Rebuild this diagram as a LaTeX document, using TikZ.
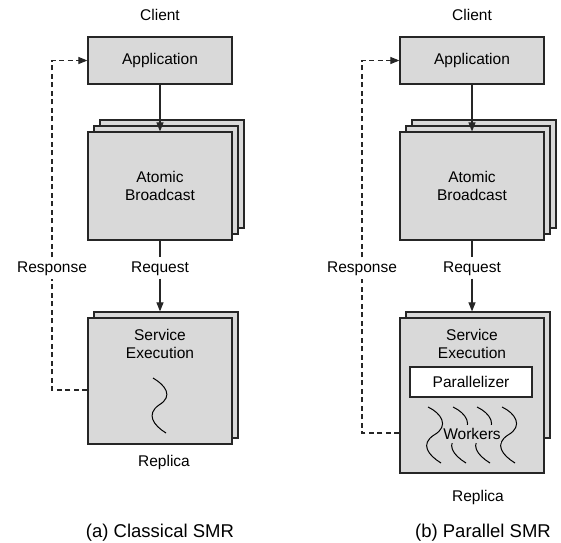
\documentclass[tikz,border=0pt]{standalone}
\usepackage{fontspec}
\setmainfont{Liberation Sans}
\usetikzlibrary{arrows.meta}
\definecolor{boxgray}{HTML}{D9D9D9}
\definecolor{edgecol}{HTML}{262626}
\begin{document}
\begin{tikzpicture}[x=1pt,y=-1pt,
  txt/.style={font=\fontsize{15.5}{18}\selectfont, inner sep=0pt, align=center},
  captxt/.style={txt, font=\fontsize{18.5}{22}\selectfont},
  box/.style={draw=edgecol, fill=boxgray, line width=1.2pt, inner sep=0pt, font=\fontsize{15.5}{18}\selectfont, align=center},
  wbox/.style={box, fill=white},
  lbl/.style={txt, text height=11pt, text depth=3pt, inner ysep=3.5pt, inner xsep=2pt},
  conn/.style={line width=1.1pt, draw=edgecol},
  arr/.style={conn, -{Triangle[length=9pt,width=7pt]}},
  dsh/.style={conn, dash pattern=on 5pt off 3.5pt},
  squig/.style={line width=1pt, draw=black}]
\useasboundingbox (0,0) rectangle (561,542);

% ---------- (a) Classical SMR ----------
\node[txt] (clientA) at (160,15) {Client};
\node[box, minimum width=144pt, minimum height=47pt] (appA) at (160,60.5) {Application};
\node[box, minimum width=144pt, minimum height=108pt] (abA3) at (172,174) {};
\node[box, minimum width=144pt, minimum height=108pt] (abA2) at (166,180) {};
\node[box, minimum width=144pt, minimum height=108pt] (abA1) at (160,186) {Atomic\\Broadcast};
\node[box, minimum width=144pt, minimum height=126pt] (seA2) at (166,375) {};
\node[box, minimum width=144pt, minimum height=126pt] (seA1) at (160,381) {};
\node[txt] (seAt) at (160,344) {Service\\Execution};
\draw[squig] (153,378) .. controls (165,385) and (174,396) .. (159,405)
  .. controls (146,414) and (153,425) .. (166,433);
\node[txt] (repA) at (164,462) {Replica};
\node[captxt] (capA) at (160,533) {(a) Classical SMR};
\node[lbl] (reqA) at (160,268) {Request};
\node[lbl] (respA) at (52,268) {Response};

\draw[arr] (appA.south) -- (abA1.north);
\draw[conn] (abA1.south) -- (reqA.north);
\draw[arr] (reqA.south) -- (reqA.south |- seA2.north);
\draw[dsh] ([yshift=-9pt]seA1.west) -| (respA.south);
\draw[dsh, -{Triangle[length=9pt,width=7pt]}] (respA.north) |- (appA.west);

% ---------- (b) Parallel SMR ----------
\node[txt] (clientB) at (472,15) {Client};
\node[box, minimum width=144pt, minimum height=47pt] (appB) at (472,60.5) {Application};
\node[box, minimum width=144pt, minimum height=108pt] (abB3) at (484,174) {};
\node[box, minimum width=144pt, minimum height=108pt] (abB2) at (478,180) {};
\node[box, minimum width=144pt, minimum height=108pt] (abB1) at (472,186) {Atomic\\Broadcast};
\node[box, minimum width=144pt, minimum height=126pt] (seB2) at (478,375) {};
\node[box, minimum width=144pt, minimum height=155pt] (seB1) at (472,395.5) {};
\node[txt] (seBt) at (472,344) {Service\\Execution};
\node[wbox, minimum width=122pt, minimum height=30pt] (par) at (471,382) {Parallelizer};
\foreach \sx in {428,453,477,502}{
  \draw[squig] (\sx,407) .. controls ({\sx+13},413) and ({\sx+22},426) .. ({\sx+6},435)
    .. controls ({\sx-8},444) and ({\sx},455) .. ({\sx+13},463);
}
\node[txt, fill=boxgray, inner xsep=0.5pt, inner ysep=3pt] (work) at (472,434) {Workers};
\node[txt] (repB) at (478,497) {Replica};
\node[captxt] (capB) at (483,533) {(b) Parallel SMR};
\node[lbl] (reqB) at (472,268) {Request};
\node[lbl] (respB) at (362,268) {Response};

\draw[arr] (appB.south) -- (abB1.north);
\draw[conn] (abB1.south) -- (reqB.north);
\draw[arr] (reqB.south) -- (reqB.south |- seB2.north);
\draw[dsh] ([yshift=-37.5pt]seB1.west) -| (respB.south);
\draw[dsh, -{Triangle[length=9pt,width=7pt]}] (respB.north) |- (appB.west);
\end{tikzpicture}
\end{document}
